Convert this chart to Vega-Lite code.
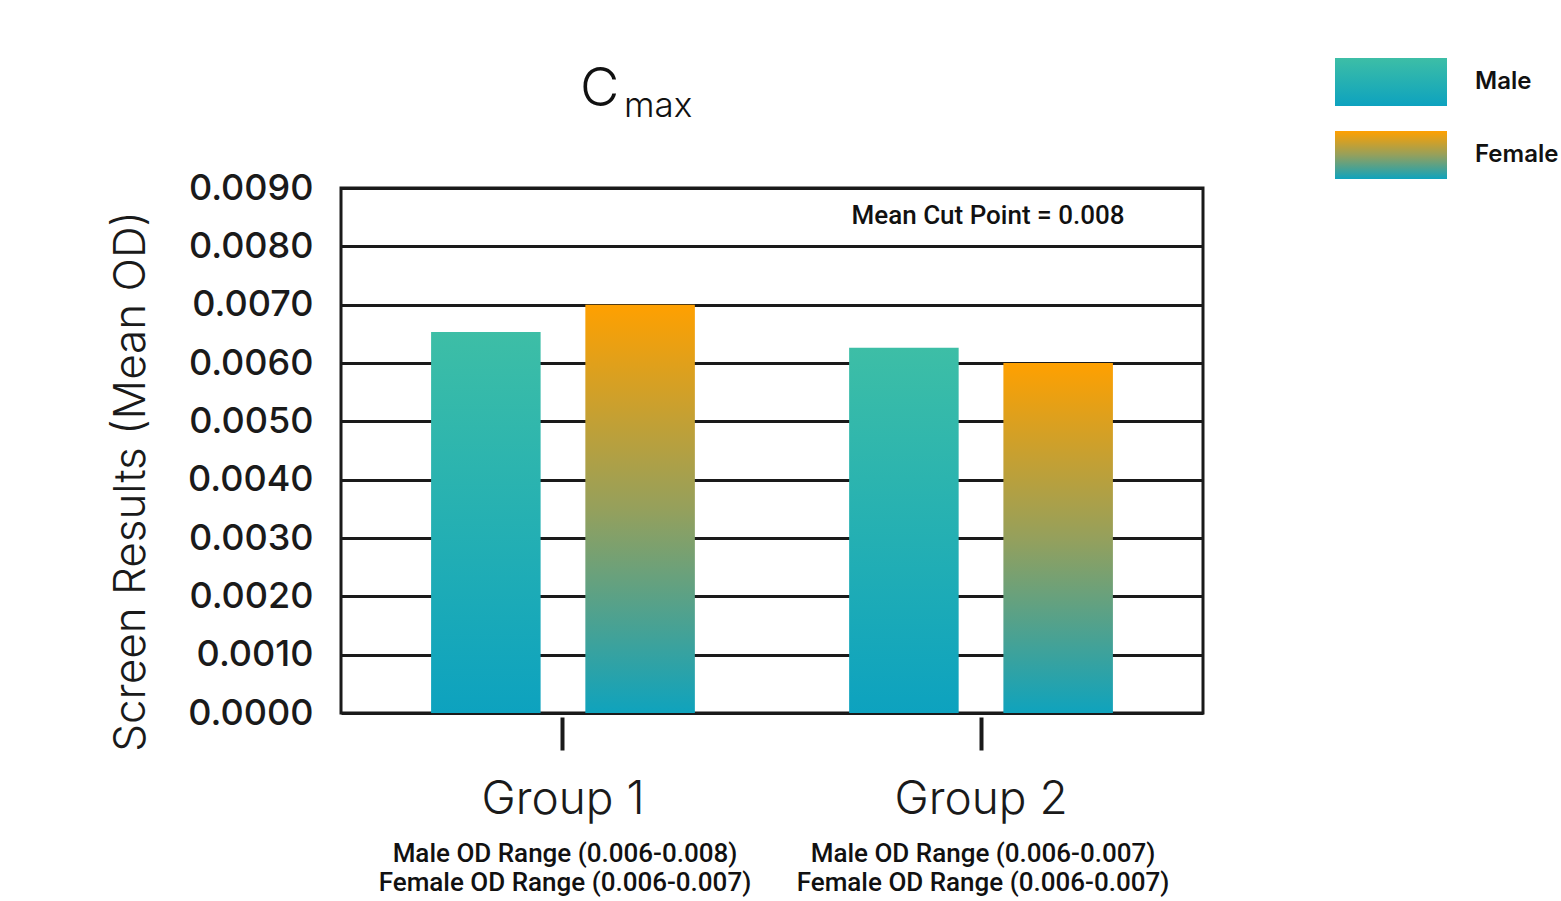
{
  "$schema": "https://vega.github.io/schema/vega-lite/v6.json",
  "autosize": {"type": "none"},
  "width": 862,
  "height": 525,
  "padding": {"left": 341, "top": 188, "right": 358, "bottom": 188},
  "background": "white",
  "config": {
    "font": "Inter",
    "view": {"stroke": "#1a1a1a", "strokeWidth": 3}
  },
  "datasets": {
    "bars": [
      {"group": "Group 1", "sex": "Male", "value": 0.00653},
      {"group": "Group 1", "sex": "Female", "value": 0.0070},
      {"group": "Group 2", "sex": "Male", "value": 0.00626},
      {"group": "Group 2", "sex": "Female", "value": 0.0060}
    ],
    "legendKeys": [
      {"group": "Group 1", "sex": "Male", "value": 0.003},
      {"group": "Group 1", "sex": "Female", "value": 0.003}
    ]
  },
  "resolve": {"scale": {"shape": "independent"}, "legend": {"shape": "independent"}},
  "encoding": {
    "x": {
      "field": "group", "type": "nominal", "sort": ["Group 1", "Group 2"],
      "scale": {"domain": ["Group 1", "Group 2"], "paddingInner": 0, "paddingOuter": 0.031},
      "axis": {
        "title": null, "labelAngle": 0, "domain": false, "grid": false,
        "offset": 4, "tickSize": 33, "tickWidth": 4, "tickColor": "#1a1a1a",
        "labelFontSize": 46, "labelFontWeight": 300, "labelColor": "#1a1a1a",
        "labelPadding": 27, "labelBaseline": "top"
      }
    },
    "y": {
      "field": "value", "type": "quantitative",
      "scale": {"domain": [0, 0.009], "nice": false, "zero": true},
      "axis": {
        "title": "Screen Results (Mean OD)",
        "values": [0, 0.001, 0.002, 0.003, 0.004, 0.005, 0.006, 0.007, 0.008, 0.009],
        "format": ".4f", "domain": false, "ticks": false,
        "grid": true, "gridColor": "#1a1a1a", "gridWidth": 3, "gridOpacity": 1,
        "labelFontSize": 36, "labelFontWeight": 500, "labelColor": "#1a1a1a", "labelPadding": 28,
        "titleFontSize": 44, "titleFontWeight": 300, "titleColor": "#1a1a1a",
        "titleX": -210, "titleY": 293, "titleAngle": -90, "titleAlign": "center", "titleBaseline": "middle"
      }
    }
  },
  "layer": [
    {
      "data": {"name": "legendKeys"},
      "transform": [{"filter": "datum.sex === 'Male'"}],
      "mark": {"type": "point", "filled": true, "size": 1, "color": {"gradient": "linear", "x1": 0, "y1": 0, "x2": 0, "y2": 1,
        "stops": [{"offset": 0, "color": "#3dbea6"}, {"offset": 1, "color": "#0da2bf"}]}},
      "encoding": {
        "xOffset": {"field": "sex", "type": "nominal",
          "scale": {"domain": ["Male", "Female"], "paddingInner": 0.29, "paddingOuter": 0.5}},
        "shape": {"field": "sex", "type": "nominal",
          "scale": {"domain": ["Male"], "range": ["M-1,-0.4286H1V0.4286H-1Z"]},
          "legend": {
            "title": null, "orient": "none", "legendX": 994, "legendY": -162,
            "padding": 0, "symbolSize": 12544, "symbolStrokeWidth": 0, "symbolOpacity": 1,
            "labelFontSize": 24, "labelFontWeight": 600, "labelColor": "#111111", "labelOffset": 28
          }
        }
      }
    },
    {
      "data": {"name": "legendKeys"},
      "transform": [{"filter": "datum.sex === 'Female'"}],
      "mark": {"type": "point", "filled": true, "size": 1, "color": {"gradient": "linear", "x1": 0, "y1": 0, "x2": 0, "y2": 1,
        "stops": [{"offset": 0, "color": "#ffa000"}, {"offset": 0.5, "color": "#95a05c"}, {"offset": 1, "color": "#0fa3bd"}]}},
      "encoding": {
        "xOffset": {"field": "sex", "type": "nominal"},
        "shape": {"field": "sex", "type": "nominal",
          "scale": {"domain": ["Female"], "range": ["M-1,-0.4286H1V0.4286H-1Z"]},
          "legend": {
            "title": null, "orient": "none", "legendX": 994, "legendY": -89,
            "padding": 0, "symbolSize": 12544, "symbolStrokeWidth": 0, "symbolOpacity": 1,
            "labelFontSize": 24, "labelFontWeight": 600, "labelColor": "#111111", "labelOffset": 28
          }
        }
      }
    },
    {
      "data": {"name": "bars"},
      "transform": [{"filter": "datum.sex === 'Male'"}],
      "mark": {"type": "bar", "color": {"gradient": "linear", "x1": 0, "y1": 0, "x2": 0, "y2": 1,
        "stops": [{"offset": 0, "color": "#3dbea6"}, {"offset": 1, "color": "#0da2bf"}]}},
      "encoding": {"xOffset": {"field": "sex", "type": "nominal"}}
    },
    {
      "data": {"name": "bars"},
      "transform": [{"filter": "datum.sex === 'Female'"}],
      "mark": {"type": "bar", "color": {"gradient": "linear", "x1": 0, "y1": 0, "x2": 0, "y2": 1,
        "stops": [{"offset": 0, "color": "#ffa000"}, {"offset": 0.5, "color": "#95a05c"}, {"offset": 1, "color": "#0fa3bd"}]}},
      "encoding": {"xOffset": {"field": "sex", "type": "nominal"}}
    },
    {
      "data": {"values": [
        {"group": "Group 2", "value": 0.00852, "label": "Mean Cut Point = 0.008"}
      ]},
      "mark": {"type": "text", "fontSize": 26, "fontWeight": 500, "font": "Roboto", "color": "#111111", "baseline": "middle", "dx": 7},
      "encoding": {"text": {"field": "label"}}
    },
    {
      "data": {"values": [
        {"group": "Group 1", "value": -0.00242, "label": "Male OD Range (0.006-0.008)"},
        {"group": "Group 1", "value": -0.00292, "label": "Female OD Range (0.006-0.007)"},
        {"group": "Group 2", "value": -0.00242, "label": "Male OD Range (0.006-0.007)"},
        {"group": "Group 2", "value": -0.00292, "label": "Female OD Range (0.006-0.007)"}
      ]},
      "mark": {"type": "text", "fontSize": 26, "fontWeight": 500, "font": "Roboto", "color": "#111111", "baseline": "middle", "dx": 2},
      "encoding": {"text": {"field": "label"}}
    },
    {
      "data": {"values": [
        {"group": "Group 1", "value": 0.01041, "label": "C"}
      ]},
      "mark": {"type": "text", "fontSize": 54, "fontWeight": 300, "color": "#111111", "align": "left", "baseline": "alphabetic", "dx": 17},
      "encoding": {"text": {"field": "label"}}
    },
    {
      "data": {"values": [
        {"group": "Group 1", "value": 0.01022, "label": "max"}
      ]},
      "mark": {"type": "text", "fontSize": 35, "fontWeight": 300, "color": "#111111", "align": "left", "baseline": "alphabetic", "dx": 61},
      "encoding": {"text": {"field": "label"}}
    }
  ]
}
